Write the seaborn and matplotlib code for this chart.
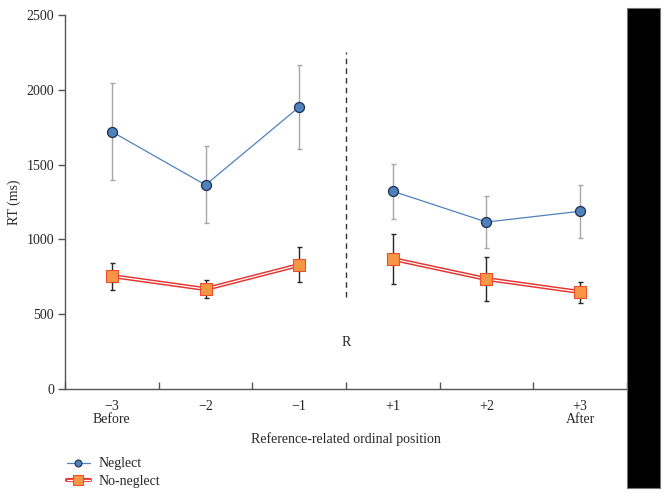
import matplotlib
matplotlib.use('Agg')
import matplotlib.pyplot as plt
import matplotlib.patheffects as pe
import numpy as np
import pandas as pd
import seaborn as sns
from matplotlib.lines import Line2D
from matplotlib.patches import Rectangle

# values
positions = ['\u22123', '\u22122', '\u22121', '+1', '+2', '+3']
tick_labels = ['\u22123\nBefore', '\u22122', '\u22121', '+1', '+2', '+3\nAfter']
neglect_rt = [1720, 1364, 1885, 1322, 1116, 1188]
neglect_err = [325, 257, 278, 184, 174, 178]
noneglect_rt = [755, 668, 829, 869, 735, 648]
noneglect_err = [90, 60, 117, 170, 147, 70]
ref_line = [615, 2253]

sns.set_theme(style='ticks')
plt.rcParams['font.family'] = ['Liberation Serif', 'DejaVu Serif']

df = pd.DataFrame({
    'pos': np.arange(len(positions)),
    'label': positions,
    'neglect': neglect_rt,
    'neglect_err': neglect_err,
    'noneglect': noneglect_rt,
    'noneglect_err': noneglect_err,
})
df['side'] = np.where(df['pos'] < 3, 'before', 'after')

fig = plt.figure(figsize=(6.69, 4.96), dpi=100)
ax = fig.add_axes([65 / 669, 1 - 389 / 496, (627 - 65) / 669, (389 - 15) / 496])

blue = '#4f81bd'
red = '#e8322d'
# error bars first so markers sit on top
ax.errorbar(df['pos'], df['neglect'], yerr=df['neglect_err'], fmt='none',
            ecolor='#a6a6a6', elinewidth=1.0, capsize=1.8, capthick=1.0, zorder=2)
ax.errorbar(df['pos'], df['noneglect'], yerr=df['noneglect_err'], fmt='none',
            ecolor='#262626', elinewidth=1.0, capsize=1.8, capthick=1.0, zorder=2)

red_fx = [pe.Stroke(linewidth=3.0, foreground=red), pe.Normal()]
for side, part in df.groupby('side'):
    sns.lineplot(data=part, x='pos', y='neglect', ax=ax, color=blue, lw=0.9,
                 marker='o', markersize=7.2, markerfacecolor=blue,
                 markeredgecolor='#1f2f4f', markeredgewidth=0.9, zorder=4)
    sns.lineplot(data=part, x='pos', y='noneglect', ax=ax, color='white', lw=0.9,
                 path_effects=red_fx, zorder=3)
    sns.scatterplot(data=part, x='pos', y='noneglect', ax=ax, marker='s', s=72,
                    color='#f79646', edgecolor='#e8502d', linewidth=0.8, zorder=5)

# reference line between -1 and +1
ax.plot([2.5, 2.5], ref_line, ls=(0, (4, 3)), color='#333333', lw=1.0)
ax.text(2.5, 314, 'R', ha='center', va='center', fontsize=10)

ax.set_xlim(-0.5, 5.5)
ax.set_ylim(0, 2500)
ax.set_yticks(np.arange(0, 2501, 500))
ax.set_xticks(df['pos'])
ax.set_xticklabels(tick_labels, linespacing=0.95)
ax.set_xticks(np.arange(-0.5, 5.6, 1.0), minor=True)
ax.tick_params(axis='x', which='major', length=0, pad=8, labelsize=10)
ax.tick_params(axis='x', which='minor', length=5, width=1, direction='in', color='#555555')
ax.tick_params(axis='y', length=5, width=1, direction='out', color='#555555', labelsize=10, pad=3)
ax.set_xlabel('Reference-related ordinal position', fontsize=10, labelpad=5)
ax.set_ylabel('RT (ms)', fontsize=10, labelpad=4)
sns.despine(ax=ax)
for s in ['left', 'bottom']:
    ax.spines[s].set_color('#555555')
    ax.spines[s].set_linewidth(1.0)
ax.grid(False)

h_neglect = Line2D([], [], color=blue, lw=0.9, marker='o', markersize=5,
                   markerfacecolor=blue, markeredgecolor='#1f2f4f', markeredgewidth=0.8)
h_red = Line2D([], [], color=red, lw=3.0)
h_white = Line2D([], [], color='white', lw=0.9)
h_square = Line2D([], [], ls='none', marker='s', markersize=7,
                  markerfacecolor='#f79646', markeredgecolor='#e8502d', markeredgewidth=0.8)
fig.legend([h_neglect, (h_red, h_white, h_square)], ['Neglect', 'No-neglect'],
           loc='upper left', bbox_to_anchor=(54 / 669, 1 - 445 / 496), frameon=False,
           fontsize=10, handlelength=1.7, handletextpad=0.6, labelspacing=0.3)

# black strip on the right edge of the source image
fig.patches.append(Rectangle((627 / 669, 1 - 488 / 496), 33 / 669, 480 / 496,
                             transform=fig.transFigure, facecolor='black',
                             edgecolor='#777777', lw=0.8))

fig.savefig('out.png', dpi=100)
